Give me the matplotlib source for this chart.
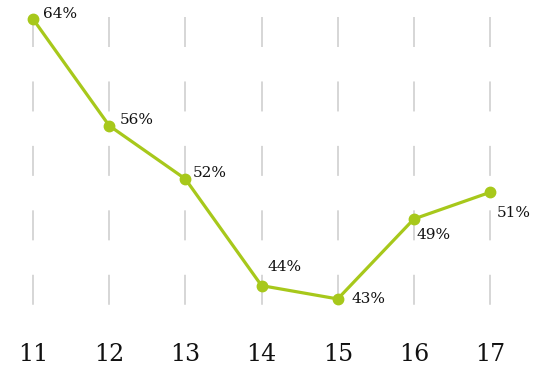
import numpy as np
import matplotlib.pyplot as plt

years = [11, 12, 13, 14, 15, 16, 17]
share = [64, 56, 52, 44, 43, 49, 51]
labels = ['64%', '56%', '52%', '44%', '43%', '49%', '51%']
# label offsets in pixels from each point (dx, dy)
offsets = [(10, 5), (11, 6), (7, 6), (6, 19), (14, 0), (3, -16), (7, -21)]

green = '#a7c81b'
font = ['DejaVu Serif']

fig = plt.figure(figsize=(5.39, 3.66), dpi=100)
ax = fig.add_axes([0, 0, 1, 1])
ax.set_xlim(10.567, 17.642)
ax.set_ylim(37.97, 65.425)
ax.axis('off')

# dashed vertical guides
for x in years:
    ax.plot([x, x], [64.15, 42.45], color='#cccccc', linewidth=1.1,
            dashes=(21.6 / 1.1, 24.8 / 1.1), solid_capstyle='butt', zorder=1)

ax.plot(years, share, color=green, linewidth=2.3, marker='o', markersize=7.5,
        zorder=3)

for x, y, lab, (dx, dy) in zip(years, share, labels, offsets):
    ax.annotate(lab, (x, y), xytext=(dx, dy), textcoords='offset pixels',
                ha='left', va='center', fontsize=11, family=font, color='#111111')

for x in years:
    ax.text(x, 38.8, str(x), ha='center', va='center', fontsize=17,
            family=font, color='#111111')

fig.savefig('out.png', dpi=100)
